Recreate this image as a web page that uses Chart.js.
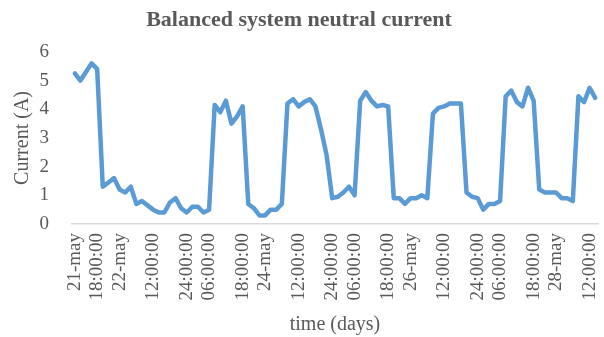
<!DOCTYPE html>
<html>
<head>
<meta charset="utf-8">
<title>Balanced system neutral current</title>
<script src="https://cdn.jsdelivr.net/npm/chart.js@4.4.1/dist/chart.umd.min.js"></script>
<style>
    body { margin: 0; background: #fff; }
    canvas { display: block; }
</style>
</head>
<body>
<canvas id="neutralChart" width="604" height="337"></canvas>
<script>
// measured neutral current (A), one value per sample
const current = [5.25, 5.0, 5.3, 5.6, 5.4, 1.3, 1.45, 1.6, 1.2, 1.1,
    1.3, 0.7, 0.8, 0.65, 0.5, 0.4, 0.4, 0.75, 0.9, 0.55,
    0.4, 0.6, 0.6, 0.4, 0.5, 4.15, 3.9, 4.3, 3.5, 3.75,
    4.1, 0.7, 0.55, 0.3, 0.3, 0.5, 0.5, 0.7, 4.2, 4.35,
    4.1, 4.25, 4.35, 4.1, 3.3, 2.4, 0.9, 0.95, 1.1, 1.3,
    1.0, 4.3, 4.6, 4.3, 4.1, 4.15, 4.1, 0.9, 0.9, 0.7,
    0.9, 0.9, 1.0, 0.9, 3.85, 4.05, 4.1, 4.2, 4.2, 4.2,
    1.1, 0.95, 0.9, 0.5, 0.7, 0.7, 0.8, 4.45, 4.65, 4.25,
    4.1, 4.75, 4.3, 1.2, 1.1, 1.1, 1.1, 0.9, 0.9, 0.8,
    4.45, 4.25, 4.75, 4.4];

// time labels that are shown on the axis and the sample they belong to
const timeLabels = ['21-may', '18:00:00', '22-may', '12:00:00', '24:00:00', '06:00:00',
    '18:00:00', '24-may', '12:00:00', '24:00:00', '06:00:00', '18:00:00', '26-may',
    '12:00:00', '24:00:00', '06:00:00', '18:00:00', '28-may', '12:00:00'];
const labelSample = [0, 4, 8, 14, 20, 24, 30, 34, 40, 46, 50, 56, 60, 66, 72, 76, 82, 86, 92];

const yTicks = [0, 1, 2, 3, 4, 5, 6];

const labels = current.map(() => '');
labelSample.forEach((s, i) => { labels[s] = timeLabels[i]; });

const grey = '#595959';
const serif = "'Liberation Serif', 'Times New Roman', serif";

const ctx = document.getElementById('neutralChart').getContext('2d');
new Chart(ctx, {
    type: 'line',
    data: {
        labels: labels,
        datasets: [{
            label: 'Neutral current',
            data: current,
            borderColor: '#5b9bd5',
            borderWidth: 4.5,
            borderJoinStyle: 'round',
            borderCapStyle: 'round',
            pointRadius: 0,
            fill: false,
            tension: 0
        }]
    },
    options: {
        responsive: false,
        animation: false,
        layout: { padding: { left: 0, right: 6, top: 0, bottom: 0 } },
        plugins: {
            legend: { display: false },
            tooltip: { enabled: false },
            title: {
                display: true,
                text: 'Balanced system neutral current',
                color: grey,
                font: { family: serif, size: 22, weight: 'bold' },
                padding: { top: 7, bottom: 18.5 }
            }
        },
        scales: {
            x: {
                offset: true,
                grid: { display: false, drawTicks: false },
                border: { display: true, color: '#d9d9d9', width: 1.5 },
                ticks: {
                    autoSkip: false,
                    minRotation: 90,
                    maxRotation: 90,
                    padding: 9,
                    color: grey,
                    font: { family: serif, size: 19 }
                },
                title: {
                    display: true,
                    text: 'time (days)',
                    color: grey,
                    font: { family: serif, size: 20 },
                    padding: { top: 0, bottom: 0 }
                },
                afterFit: scale => {
                    scale.height = 113;
                    scale.paddingLeft = 0;
                    scale.paddingRight = 0;
                }
            },
            y: {
                min: 0,
                max: 6,
                grid: { display: false, drawTicks: false },
                border: { display: false },
                afterBuildTicks: scale => {
                    scale.ticks = yTicks.map(v => ({ value: v }));
                },
                ticks: {
                    padding: 23,
                    color: grey,
                    font: { family: serif, size: 19 }
                },
                title: {
                    display: true,
                    text: 'Current (A)',
                    color: grey,
                    font: { family: serif, size: 20 },
                    padding: { top: 11, bottom: 0 }
                },
                afterFit: scale => {
                    scale.width = 72;
                    scale.paddingTop = 0;
                    scale.paddingBottom = 0;
                }
            }
        }
    }
});
</script>
</body>
</html>
